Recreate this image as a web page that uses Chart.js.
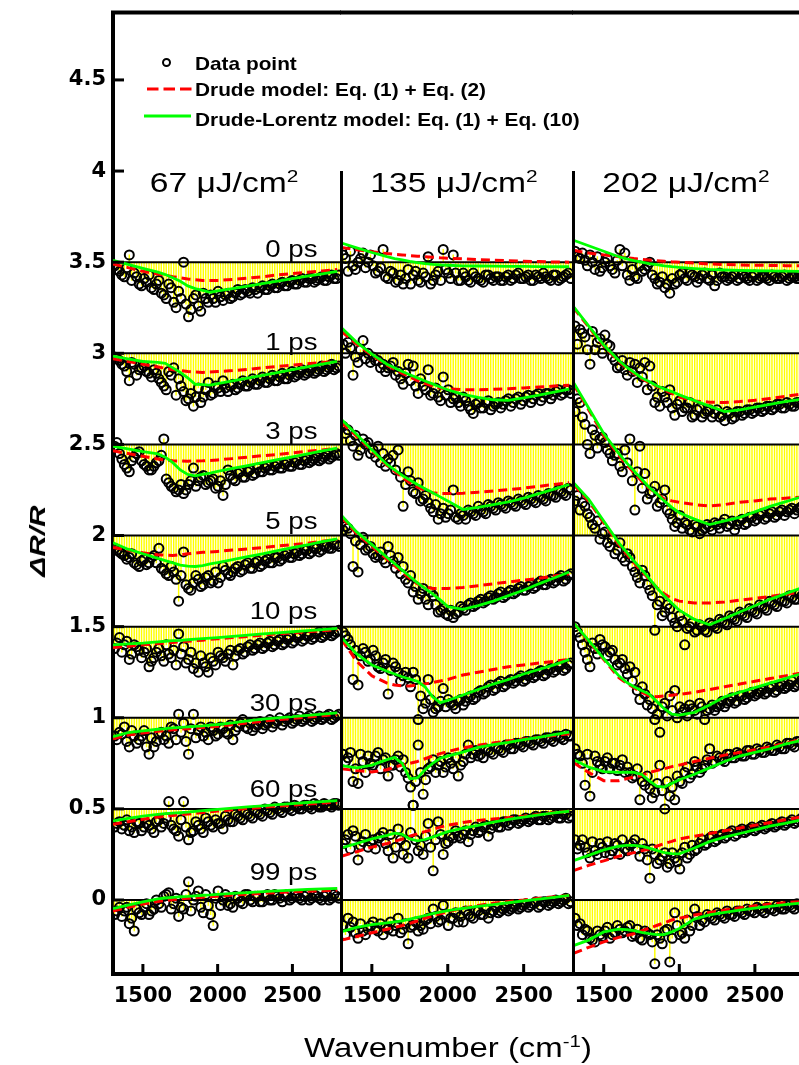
<!DOCTYPE html>
<html>
<head>
<meta charset="utf-8">
<script src="https://cdn.jsdelivr.net/npm/chart.js@4.4.0/dist/chart.umd.min.js"></script>
<style>
  html, body { margin: 0; padding: 0; overflow: hidden; background: #fff; }
  body { position: relative; width: 799px; height: 1065px; font-family: "Liberation Sans", Arial, sans-serif; }
  canvas { position: absolute; top: 0; }
  .t { position: absolute; white-space: nowrap; color: #000; line-height: 1; }
  .t sup { font-size: 0.62em; vertical-align: 0.6em; line-height: 0; }
</style>
</head>
<body>
<canvas id="p0" width="341" height="1065" style="left:0px"></canvas>
<canvas id="p1" width="233" height="1065" style="left:340px"></canvas>
<canvas id="p2" width="232" height="1065" style="left:572px"></canvas>

<!-- legend -->
<div class="t" style="left:161.5px;top:58px;width:5px;height:5px;border:2px solid #000;border-radius:50%"></div>
<svg class="t" style="left:140px;top:80px" width="60" height="45">
  <line x1="7" y1="9" x2="52" y2="9" stroke="#ff0000" stroke-width="3" stroke-dasharray="11.5 5"/>
  <line x1="4" y1="36" x2="51" y2="36" stroke="#00ff00" stroke-width="3"/>
</svg>

<script>
const fluences = [67, 135, 202];
const delays = ['0 ps', '1 ps', '3 ps', '5 ps', '10 ps', '30 ps', '60 ps', '99 ps'];
const baselines = [3.5, 3, 2.5, 2, 1.5, 1, 0.5, 0];
const yTicks = [0, 0.5, 1, 1.5, 2, 2.5, 3, 3.5, 4, 4.5];
const xTicks = [1500, 2000, 2500];

// measured wavenumbers (cm-1), two interleaved sets of spectral points
const wavenumber = [1310,1343,1376,1409,1442,1475,1508,1541,1574,1607,1640,1673,1706,1739,1772,1805,
  1838,1871,1904,1937,1970,2003,2036,2069,2102,2135,2168,2201,2234,2267,2300,2333,2366,2399,2432,2465,
  2498,2531,2564,2597,2630,2663,2696,2729,2762,2795];
const wavenumberB = [1326,1359,1392,1425,1458,1491,1524,1557,1590,1623,1656,1689,1722,1755,1788,1821,
  1854,1887,1920,1953,1986,2019,2052,2085,2118,2151,2184,2217,2250,2283,2316,2349,2382,2415,2448,2481,
  2514,2547,2580,2613,2646,2679,2712,2745,2778,2811];
// wavenumbers of the fitted curves
const modelWavenumber = [1300,1400,1500,1600,1650,1700,1750,1800,1850,1900,1950,2000,2100,2200,2300,2400,2500,2600,2700,2800];

// dR/R relative to each trace's offset, one row per delay
const points67 = [
  [-0.02,-0.05,-0.08,0.04,-0.06,-0.12,-0.09,-0.07,-0.15,-0.10,-0.18,-0.12,-0.22,-0.16,0.0,-0.30,-0.2,-0.24,-0.17,-0.22,-0.2,-0.16,-0.21,-0.17,-0.19,-0.15,-0.17,-0.16,-0.14,-0.17,-0.13,-0.15,-0.12,-0.14,-0.11,-0.13,-0.1,-0.12,-0.09,-0.11,-0.09,-0.1,-0.08,-0.1,-0.07,-0.09],
  [-0.02,-0.04,-0.07,-0.15,-0.06,-0.09,-0.07,-0.11,-0.09,-0.14,-0.18,-0.1,-0.08,-0.14,-0.21,-0.25,-0.29,-0.19,-0.24,-0.16,-0.22,-0.19,-0.15,-0.21,-0.17,-0.19,-0.15,-0.18,-0.14,-0.17,-0.13,-0.16,-0.12,-0.15,-0.11,-0.14,-0.1,-0.12,-0.09,-0.11,-0.08,-0.1,-0.07,-0.09,-0.06,-0.08],
  [-0.01,-0.05,-0.11,-0.15,-0.07,-0.04,-0.11,-0.14,-0.12,-0.09,0.03,-0.21,-0.24,-0.25,-0.27,-0.22,-0.13,-0.2,-0.17,-0.21,-0.19,-0.23,-0.28,-0.14,-0.19,-0.16,-0.18,-0.15,-0.17,-0.13,-0.15,-0.12,-0.14,-0.11,-0.13,-0.1,-0.12,-0.09,-0.11,-0.08,-0.09,-0.07,-0.08,-0.06,-0.07,-0.05],
  [-0.07,-0.09,-0.11,-0.12,-0.15,-0.17,-0.13,-0.15,-0.11,-0.07,-0.19,-0.22,-0.2,-0.36,-0.09,-0.29,-0.26,-0.24,-0.27,-0.22,-0.25,-0.26,-0.17,-0.21,-0.2,-0.17,-0.19,-0.15,-0.18,-0.14,-0.16,-0.13,-0.15,-0.12,-0.13,-0.1,-0.12,-0.09,-0.1,-0.08,-0.09,-0.07,-0.08,-0.06,-0.07,-0.05],
  [-0.12,-0.06,-0.1,-0.18,-0.1,-0.13,-0.14,-0.22,-0.17,-0.12,-0.19,-0.15,-0.13,-0.04,-0.11,-0.18,-0.23,-0.25,-0.2,-0.25,-0.19,-0.14,-0.17,-0.15,-0.21,-0.13,-0.15,-0.11,-0.13,-0.1,-0.12,-0.09,-0.11,-0.08,-0.1,-0.07,-0.09,-0.06,-0.08,-0.05,-0.07,-0.04,-0.06,-0.04,-0.05,-0.03],
  [-0.1,-0.08,-0.05,-0.16,-0.1,-0.12,-0.07,-0.2,-0.16,-0.09,-0.12,-0.14,-0.06,0.02,-0.03,-0.2,0.02,-0.07,-0.1,-0.12,-0.07,-0.09,-0.06,-0.09,-0.12,-0.05,-0.01,-0.06,-0.07,-0.04,-0.06,-0.03,-0.05,-0.02,-0.04,-0.01,-0.03,-0.01,-0.02,0.0,-0.02,0.0,-0.01,0.01,-0.01,0.01],
  [-0.1,-0.07,-0.09,-0.12,-0.13,-0.08,-0.1,-0.09,-0.13,-0.06,-0.08,0.04,-0.11,-0.15,0.04,-0.17,-0.12,-0.09,-0.13,-0.07,-0.1,-0.08,-0.11,-0.06,-0.07,-0.04,-0.06,-0.03,-0.05,-0.02,-0.04,-0.01,-0.03,0.0,-0.02,0.01,-0.01,0.01,0.0,0.02,0.0,0.02,0.01,0.02,0.01,0.03],
  [-0.08,-0.04,-0.06,-0.13,-0.17,-0.07,-0.04,-0.08,-0.05,-0.02,0.02,0.04,-0.02,-0.09,-0.05,0.1,0.0,0.05,-0.07,-0.03,-0.14,0.05,0.0,-0.03,-0.04,0.01,-0.02,0.03,-0.01,0.02,-0.01,0.03,0.0,0.02,-0.01,0.03,0.01,0.02,0.0,0.03,0.01,0.02,0.0,0.03,0.01,0.02]
];
const points67b = [
  [-0.04,-0.07,-0.03,-0.1,-0.08,-0.13,-0.11,-0.14,-0.12,-0.17,-0.2,-0.14,-0.25,-0.2,-0.23,-0.26,-0.18,-0.27,-0.2,-0.18,-0.22,-0.19,-0.18,-0.2,-0.17,-0.18,-0.15,-0.17,-0.15,-0.14,-0.15,-0.13,-0.14,-0.12,-0.13,-0.11,-0.12,-0.1,-0.11,-0.09,-0.11,-0.09,-0.1,-0.08,-0.09,-0.07],
  [-0.03,-0.06,-0.1,-0.05,-0.12,-0.08,-0.1,-0.13,-0.11,-0.16,-0.2,-0.12,-0.23,-0.18,-0.26,-0.22,-0.24,-0.27,-0.2,-0.23,-0.18,-0.21,-0.19,-0.18,-0.2,-0.17,-0.18,-0.16,-0.17,-0.15,-0.16,-0.14,-0.15,-0.13,-0.14,-0.12,-0.13,-0.11,-0.12,-0.1,-0.11,-0.09,-0.1,-0.08,-0.09,-0.07],
  [0.01,-0.08,-0.13,-0.09,-0.05,-0.09,-0.12,-0.14,-0.1,-0.06,-0.19,-0.23,-0.26,-0.22,-0.25,-0.2,-0.23,-0.18,-0.22,-0.2,-0.24,-0.2,-0.22,-0.17,-0.2,-0.15,-0.18,-0.14,-0.16,-0.15,-0.13,-0.14,-0.12,-0.13,-0.11,-0.12,-0.1,-0.11,-0.09,-0.1,-0.08,-0.09,-0.07,-0.08,-0.06,-0.06],
  [-0.08,-0.1,-0.13,-0.1,-0.16,-0.14,-0.16,-0.12,-0.15,-0.18,-0.21,-0.17,-0.24,-0.22,-0.27,-0.3,-0.22,-0.28,-0.23,-0.26,-0.2,-0.23,-0.19,-0.22,-0.18,-0.2,-0.16,-0.18,-0.15,-0.17,-0.14,-0.15,-0.12,-0.14,-0.11,-0.12,-0.1,-0.11,-0.08,-0.1,-0.07,-0.09,-0.06,-0.07,-0.05,-0.06],
  [-0.09,-0.14,-0.08,-0.15,-0.11,-0.17,-0.12,-0.19,-0.14,-0.16,-0.1,-0.17,-0.21,-0.15,-0.2,-0.14,-0.2,-0.16,-0.22,-0.17,-0.21,-0.16,-0.19,-0.13,-0.16,-0.12,-0.14,-0.1,-0.12,-0.09,-0.11,-0.08,-0.1,-0.07,-0.09,-0.06,-0.08,-0.05,-0.07,-0.05,-0.06,-0.03,-0.05,-0.03,-0.04,-0.02],
  [-0.12,-0.09,-0.13,-0.07,-0.14,-0.1,-0.16,-0.11,-0.13,-0.08,-0.1,-0.05,-0.12,-0.08,-0.13,-0.06,-0.11,-0.05,-0.08,-0.05,-0.1,-0.05,-0.08,-0.04,-0.07,-0.03,-0.05,-0.03,-0.05,-0.02,-0.04,-0.01,-0.03,0.0,-0.02,0.0,-0.02,0.01,-0.01,0.01,-0.01,0.01,0.0,0.02,0.0,0.02],
  [-0.08,-0.11,-0.06,-0.1,-0.07,-0.12,-0.08,-0.11,-0.07,-0.1,-0.05,-0.09,-0.12,-0.06,-0.1,-0.13,-0.07,-0.11,-0.05,-0.09,-0.06,-0.08,-0.04,-0.07,-0.03,-0.05,-0.02,-0.04,-0.01,-0.03,0.0,-0.02,0.01,-0.01,0.01,0.0,0.02,0.0,0.02,0.01,0.03,0.01,0.03,0.02,0.03,0.02],
  [-0.06,-0.09,-0.04,-0.1,-0.05,-0.08,-0.02,-0.06,0.0,-0.04,0.03,-0.05,0.01,-0.04,0.03,-0.06,0.02,-0.04,0.03,-0.08,0.01,-0.03,0.03,-0.02,0.02,-0.01,0.03,0.0,0.02,-0.01,0.02,0.0,0.03,0.01,0.02,0.0,0.03,0.01,0.02,0.0,0.03,0.01,0.02,0.0,0.03,0.01]
];
const drude67 = [
  [-0.01,-0.03,-0.05,-0.065,-0.072,-0.08,-0.086,-0.092,-0.096,-0.1,-0.1,-0.1,-0.095,-0.088,-0.08,-0.07,-0.062,-0.055,-0.048,-0.04],
  [-0.03,-0.045,-0.06,-0.075,-0.082,-0.09,-0.095,-0.1,-0.103,-0.105,-0.103,-0.1,-0.095,-0.088,-0.08,-0.072,-0.065,-0.058,-0.05,-0.045],
  [-0.035,-0.05,-0.065,-0.08,-0.085,-0.09,-0.091,-0.092,-0.091,-0.09,-0.088,-0.085,-0.078,-0.07,-0.062,-0.055,-0.047,-0.038,-0.03,-0.02],
  [-0.065,-0.08,-0.095,-0.105,-0.108,-0.11,-0.105,-0.1,-0.096,-0.092,-0.09,-0.087,-0.08,-0.074,-0.066,-0.058,-0.05,-0.042,-0.032,-0.022],
  [-0.115,-0.108,-0.1,-0.093,-0.09,-0.087,-0.083,-0.08,-0.077,-0.074,-0.07,-0.067,-0.06,-0.054,-0.047,-0.04,-0.034,-0.028,-0.022,-0.016],
  [-0.115,-0.095,-0.083,-0.074,-0.07,-0.066,-0.063,-0.06,-0.057,-0.054,-0.05,-0.047,-0.038,-0.028,-0.019,-0.01,-0.003,0.004,0.011,0.018],
  [-0.085,-0.07,-0.057,-0.045,-0.04,-0.036,-0.032,-0.028,-0.024,-0.02,-0.016,-0.012,-0.005,0.002,0.009,0.015,0.021,0.027,0.032,0.037],
  [-0.06,-0.04,-0.022,-0.008,-0.003,0.002,0.006,0.009,0.012,0.015,0.018,0.021,0.027,0.032,0.037,0.041,0.045,0.048,0.051,0.054]
];
const lorentz67 = [
  [0.01,-0.012,-0.034,-0.055,-0.068,-0.085,-0.105,-0.13,-0.145,-0.155,-0.165,-0.158,-0.145,-0.131,-0.118,-0.104,-0.09,-0.077,-0.064,-0.05],
  [-0.015,-0.03,-0.045,-0.05,-0.055,-0.08,-0.105,-0.135,-0.17,-0.172,-0.175,-0.166,-0.151,-0.136,-0.121,-0.106,-0.09,-0.075,-0.06,-0.045],
  [-0.01,-0.025,-0.04,-0.052,-0.07,-0.1,-0.14,-0.165,-0.173,-0.165,-0.157,-0.148,-0.132,-0.116,-0.1,-0.084,-0.068,-0.052,-0.036,-0.02],
  [-0.04,-0.075,-0.1,-0.125,-0.138,-0.15,-0.162,-0.168,-0.17,-0.165,-0.156,-0.148,-0.132,-0.116,-0.1,-0.083,-0.067,-0.051,-0.034,-0.018],
  [-0.1,-0.095,-0.09,-0.083,-0.08,-0.077,-0.075,-0.072,-0.069,-0.066,-0.063,-0.06,-0.053,-0.047,-0.04,-0.034,-0.028,-0.022,-0.016,-0.01],
  [-0.104,-0.082,-0.072,-0.063,-0.06,-0.056,-0.053,-0.05,-0.047,-0.044,-0.04,-0.037,-0.028,-0.017,-0.008,0,0.006,0.013,0.02,0.027],
  [-0.066,-0.052,-0.04,-0.03,-0.026,-0.023,-0.02,-0.018,-0.014,-0.01,-0.006,-0.003,0.004,0.011,0.017,0.023,0.029,0.035,0.04,0.045],
  [-0.048,-0.028,-0.01,0.006,0.011,0.015,0.018,0.02,0.023,0.026,0.028,0.031,0.036,0.041,0.046,0.05,0.054,0.058,0.061,0.064]
];

const points135 = [
  [0.04,-0.05,-0.02,0.0,0.05,0.0,-0.02,-0.05,0.07,-0.09,-0.06,-0.1,-0.12,-0.04,-0.07,-0.1,-0.06,0.03,-0.1,-0.05,0.07,-0.06,0.04,-0.1,-0.06,-0.1,-0.06,-0.09,-0.11,-0.07,-0.1,-0.08,-0.1,-0.07,-0.09,-0.06,-0.09,-0.07,-0.1,-0.08,-0.06,-0.09,-0.07,-0.1,-0.08,-0.06],
  [0.05,0.06,-0.12,-0.05,0.07,0.0,-0.02,-0.04,-0.06,-0.08,-0.05,-0.1,-0.17,-0.06,-0.07,-0.22,-0.18,-0.09,-0.22,-0.24,-0.13,-0.2,-0.25,-0.27,-0.24,-0.29,-0.33,-0.27,-0.3,-0.26,-0.29,-0.27,-0.28,-0.25,-0.27,-0.24,-0.26,-0.23,-0.25,-0.22,-0.24,-0.22,-0.23,-0.2,-0.22,-0.2],
  [0.1,0.08,-0.01,-0.06,0.03,0.01,-0.03,-0.01,-0.05,-0.08,-0.06,-0.03,-0.34,-0.15,-0.26,-0.21,-0.3,-0.32,-0.37,-0.41,-0.35,-0.38,-0.25,-0.41,-0.39,-0.36,-0.38,-0.34,-0.37,-0.33,-0.35,-0.32,-0.34,-0.31,-0.33,-0.3,-0.32,-0.29,-0.31,-0.28,-0.3,-0.27,-0.28,-0.25,-0.27,-0.24],
  [0.03,0.04,-0.17,-0.2,-0.01,-0.07,-0.1,-0.11,-0.13,-0.06,-0.14,-0.12,-0.17,-0.26,-0.31,-0.35,-0.29,-0.38,-0.33,-0.42,-0.4,-0.44,-0.45,-0.42,-0.4,-0.38,-0.39,-0.36,-0.37,-0.34,-0.35,-0.32,-0.34,-0.31,-0.32,-0.29,-0.3,-0.28,-0.29,-0.26,-0.27,-0.25,-0.26,-0.23,-0.25,-0.22],
  [-0.03,-0.07,-0.29,-0.32,-0.12,-0.19,-0.13,-0.22,-0.2,-0.37,-0.2,-0.25,-0.27,-0.28,-0.25,-0.51,-0.45,-0.29,-0.47,-0.44,-0.34,-0.4,-0.43,-0.41,-0.43,-0.39,-0.4,-0.36,-0.37,-0.33,-0.35,-0.31,-0.33,-0.3,-0.31,-0.28,-0.3,-0.27,-0.28,-0.25,-0.27,-0.24,-0.25,-0.22,-0.24,-0.21],
  [-0.2,-0.22,-0.35,-0.36,-0.24,-0.21,-0.26,-0.19,-0.23,-0.32,-0.26,-0.21,-0.23,-0.33,-0.48,-0.15,-0.42,-0.28,-0.23,-0.26,-0.3,-0.22,-0.28,-0.32,-0.24,-0.15,-0.2,-0.21,-0.22,-0.18,-0.2,-0.17,-0.19,-0.15,-0.17,-0.14,-0.16,-0.13,-0.15,-0.12,-0.14,-0.11,-0.13,-0.1,-0.12,-0.1],
  [-0.19,-0.14,-0.12,-0.28,-0.18,-0.21,-0.17,-0.16,-0.13,-0.23,-0.27,-0.11,-0.25,-0.27,0.02,-0.23,-0.25,-0.08,-0.34,-0.07,-0.25,-0.18,-0.16,-0.15,-0.14,-0.18,-0.12,-0.13,-0.1,-0.15,-0.09,-0.1,-0.07,-0.09,-0.06,-0.08,-0.06,-0.07,-0.05,-0.06,-0.04,-0.06,-0.04,-0.05,-0.03,-0.05],
  [-0.14,-0.1,-0.12,-0.21,-0.17,-0.16,-0.12,-0.17,-0.19,-0.16,-0.17,-0.1,-0.16,-0.24,-0.14,-0.17,-0.16,-0.1,-0.05,-0.12,-0.03,-0.14,-0.1,-0.12,-0.12,-0.08,-0.1,-0.06,-0.08,-0.1,-0.06,-0.07,-0.05,-0.06,-0.04,-0.05,-0.03,-0.04,-0.02,-0.04,-0.01,-0.03,-0.01,-0.02,0.0,-0.02]
];
const points135b = [
  [0.02,0.06,-0.04,0.02,-0.03,0.04,-0.06,-0.03,-0.08,-0.05,-0.11,-0.07,-0.09,-0.12,-0.05,-0.11,-0.08,-0.12,-0.07,-0.1,-0.04,-0.09,-0.06,-0.1,-0.08,-0.11,-0.08,-0.1,-0.07,-0.09,-0.08,-0.1,-0.08,-0.1,-0.07,-0.09,-0.08,-0.1,-0.07,-0.09,-0.08,-0.1,-0.07,-0.09,-0.07,-0.09],
  [0.0,0.03,-0.02,0.02,-0.03,-0.05,-0.04,-0.08,-0.1,-0.07,-0.12,-0.14,-0.11,-0.15,-0.18,-0.14,-0.2,-0.23,-0.19,-0.26,-0.23,-0.27,-0.24,-0.29,-0.26,-0.31,-0.28,-0.3,-0.27,-0.31,-0.28,-0.3,-0.26,-0.29,-0.25,-0.28,-0.24,-0.27,-0.23,-0.26,-0.22,-0.25,-0.21,-0.23,-0.2,-0.22],
  [0.06,0.02,0.05,-0.03,0.0,-0.05,-0.07,-0.1,-0.12,-0.1,-0.14,-0.18,-0.22,-0.2,-0.27,-0.31,-0.28,-0.35,-0.33,-0.38,-0.4,-0.36,-0.4,-0.38,-0.41,-0.37,-0.39,-0.36,-0.38,-0.34,-0.36,-0.33,-0.35,-0.32,-0.34,-0.31,-0.33,-0.3,-0.32,-0.29,-0.31,-0.28,-0.29,-0.26,-0.28,-0.25],
  [0.05,0.01,-0.03,-0.05,-0.08,-0.06,-0.12,-0.09,-0.15,-0.11,-0.18,-0.21,-0.24,-0.22,-0.28,-0.32,-0.35,-0.31,-0.38,-0.41,-0.43,-0.41,-0.43,-0.39,-0.41,-0.37,-0.38,-0.35,-0.36,-0.33,-0.34,-0.31,-0.33,-0.3,-0.31,-0.28,-0.3,-0.27,-0.28,-0.25,-0.27,-0.24,-0.25,-0.22,-0.24,-0.21],
  [-0.05,-0.1,-0.13,-0.16,-0.14,-0.18,-0.16,-0.23,-0.18,-0.24,-0.22,-0.3,-0.25,-0.33,-0.29,-0.38,-0.42,-0.4,-0.45,-0.41,-0.44,-0.42,-0.45,-0.4,-0.41,-0.38,-0.39,-0.35,-0.36,-0.32,-0.34,-0.3,-0.32,-0.29,-0.3,-0.27,-0.29,-0.26,-0.27,-0.24,-0.26,-0.23,-0.24,-0.21,-0.23,-0.2],
  [-0.24,-0.19,-0.28,-0.2,-0.3,-0.25,-0.21,-0.28,-0.22,-0.26,-0.23,-0.27,-0.3,-0.38,-0.35,-0.3,-0.34,-0.27,-0.3,-0.24,-0.27,-0.25,-0.22,-0.26,-0.2,-0.22,-0.18,-0.2,-0.17,-0.19,-0.16,-0.18,-0.15,-0.17,-0.14,-0.15,-0.13,-0.14,-0.12,-0.13,-0.11,-0.12,-0.1,-0.11,-0.09,-0.1],
  [-0.17,-0.22,-0.15,-0.2,-0.14,-0.18,-0.22,-0.15,-0.19,-0.14,-0.21,-0.17,-0.2,-0.13,-0.17,-0.2,-0.15,-0.21,-0.17,-0.14,-0.19,-0.15,-0.12,-0.16,-0.12,-0.14,-0.1,-0.12,-0.09,-0.11,-0.08,-0.1,-0.07,-0.08,-0.06,-0.07,-0.05,-0.06,-0.04,-0.06,-0.04,-0.05,-0.03,-0.05,-0.03,-0.04],
  [-0.19,-0.15,-0.18,-0.13,-0.19,-0.14,-0.16,-0.13,-0.15,-0.12,-0.14,-0.18,-0.13,-0.15,-0.12,-0.14,-0.11,-0.13,-0.09,-0.11,-0.08,-0.1,-0.07,-0.09,-0.06,-0.09,-0.06,-0.08,-0.05,-0.07,-0.04,-0.06,-0.04,-0.05,-0.03,-0.04,-0.02,-0.03,-0.01,-0.03,-0.01,-0.02,0.0,-0.01,0.01,-0.01]
];
const drude135 = [
  [0.08,0.068,0.057,0.047,0.043,0.04,0.036,0.033,0.03,0.027,0.024,0.022,0.018,0.014,0.011,0.008,0.005,0.003,0.001,0],
  [0.12,0.05,-0.01,-0.065,-0.088,-0.11,-0.13,-0.15,-0.165,-0.18,-0.19,-0.195,-0.2,-0.2,-0.198,-0.195,-0.19,-0.185,-0.18,-0.175],
  [0.12,0.045,-0.035,-0.115,-0.148,-0.18,-0.21,-0.235,-0.252,-0.265,-0.27,-0.27,-0.268,-0.262,-0.255,-0.248,-0.24,-0.23,-0.22,-0.21],
  [0.1,0.01,-0.06,-0.13,-0.165,-0.2,-0.235,-0.265,-0.282,-0.29,-0.29,-0.29,-0.285,-0.275,-0.265,-0.255,-0.245,-0.235,-0.222,-0.21],
  [-0.07,-0.19,-0.27,-0.31,-0.32,-0.325,-0.325,-0.32,-0.314,-0.307,-0.298,-0.29,-0.265,-0.25,-0.235,-0.22,-0.21,-0.2,-0.19,-0.18],
  [-0.28,-0.29,-0.298,-0.285,-0.27,-0.26,-0.25,-0.24,-0.225,-0.21,-0.197,-0.185,-0.165,-0.15,-0.138,-0.127,-0.117,-0.107,-0.097,-0.088],
  [-0.26,-0.235,-0.21,-0.19,-0.178,-0.165,-0.15,-0.137,-0.125,-0.113,-0.1,-0.09,-0.075,-0.063,-0.055,-0.048,-0.04,-0.03,-0.02,-0.013],
  [-0.22,-0.2,-0.18,-0.16,-0.15,-0.14,-0.128,-0.115,-0.1,-0.088,-0.075,-0.065,-0.045,-0.03,-0.018,-0.008,0,0.01,0.018,0.025]
];
const lorentz135 = [
  [0.105,0.078,0.053,0.03,0.02,0.012,0.004,-0.003,-0.008,-0.012,-0.015,-0.017,-0.02,-0.021,-0.022,-0.023,-0.023,-0.024,-0.025,-0.025],
  [0.14,0.06,-0.005,-0.06,-0.08,-0.1,-0.118,-0.135,-0.152,-0.168,-0.185,-0.2,-0.225,-0.242,-0.255,-0.258,-0.245,-0.23,-0.213,-0.197],
  [0.137,0.055,-0.03,-0.11,-0.14,-0.17,-0.195,-0.22,-0.243,-0.265,-0.288,-0.31,-0.357,-0.345,-0.33,-0.316,-0.295,-0.27,-0.245,-0.22],
  [0.11,0.02,-0.05,-0.12,-0.155,-0.19,-0.225,-0.26,-0.29,-0.32,-0.353,-0.39,-0.405,-0.385,-0.36,-0.33,-0.3,-0.265,-0.233,-0.2],
  [-0.06,-0.15,-0.21,-0.245,-0.26,-0.275,-0.288,-0.3,-0.33,-0.385,-0.417,-0.405,-0.375,-0.345,-0.315,-0.29,-0.26,-0.235,-0.21,-0.18],
  [-0.262,-0.275,-0.26,-0.23,-0.217,-0.25,-0.335,-0.33,-0.285,-0.25,-0.222,-0.21,-0.188,-0.163,-0.148,-0.135,-0.12,-0.107,-0.093,-0.079],
  [-0.214,-0.19,-0.165,-0.145,-0.133,-0.14,-0.165,-0.175,-0.168,-0.155,-0.14,-0.125,-0.105,-0.09,-0.073,-0.058,-0.045,-0.033,-0.022,-0.013],
  [-0.174,-0.15,-0.135,-0.125,-0.12,-0.115,-0.105,-0.095,-0.085,-0.075,-0.066,-0.058,-0.046,-0.035,-0.025,-0.015,-0.005,0.005,0.015,0.025]
];

const points202 = [
  [0.06,0.02,0.01,0.04,-0.04,-0.05,0.0,-0.02,-0.06,0.07,0.05,-0.1,-0.08,-0.02,-0.04,0.0,-0.09,-0.11,-0.14,-0.17,-0.12,-0.07,-0.09,-0.06,-0.08,-0.09,-0.06,-0.1,-0.13,-0.06,-0.08,-0.09,-0.07,-0.09,-0.08,-0.1,-0.07,-0.09,-0.08,-0.1,-0.08,-0.09,-0.07,-0.09,-0.08,-0.09],
  [0.15,0.13,0.09,-0.06,0.02,0.08,0.1,0.04,-0.04,-0.07,-0.09,-0.05,-0.06,-0.08,-0.05,-0.07,-0.27,-0.29,-0.24,-0.2,-0.34,-0.26,-0.3,-0.27,-0.34,-0.3,-0.33,-0.31,-0.33,-0.35,-0.37,-0.33,-0.35,-0.32,-0.33,-0.31,-0.32,-0.3,-0.31,-0.29,-0.3,-0.28,-0.3,-0.28,-0.29,-0.27],
  [0.18,0.23,0.11,-0.05,0.05,0.03,0.01,-0.05,-0.06,-0.12,-0.03,0.03,-0.36,-0.01,-0.16,-0.27,-0.23,-0.32,-0.25,-0.38,-0.45,-0.39,-0.43,-0.47,-0.44,-0.49,-0.46,-0.45,-0.43,-0.46,-0.41,-0.44,-0.47,-0.42,-0.44,-0.4,-0.42,-0.39,-0.41,-0.38,-0.4,-0.37,-0.39,-0.36,-0.38,-0.35],
  [0.19,0.14,0.16,0.1,0.04,-0.02,0.02,-0.06,-0.1,-0.04,-0.14,-0.12,-0.2,-0.26,-0.22,-0.3,-0.52,-0.36,-0.42,-0.4,-0.48,-0.44,-0.6,-0.5,-0.53,-0.49,-0.52,-0.48,-0.5,-0.46,-0.48,-0.44,-0.46,-0.42,-0.44,-0.4,-0.42,-0.38,-0.4,-0.36,-0.38,-0.35,-0.36,-0.33,-0.35,-0.32],
  [0.0,-0.06,-0.14,-0.22,-0.12,-0.07,-0.11,-0.14,-0.18,-0.2,-0.23,-0.22,-0.25,-0.4,-0.37,-0.4,-0.51,-0.58,-0.42,-0.38,-0.35,-0.44,-0.45,-0.43,-0.46,-0.42,-0.51,-0.45,-0.46,-0.43,-0.44,-0.41,-0.42,-0.38,-0.4,-0.37,-0.38,-0.36,-0.37,-0.34,-0.36,-0.33,-0.34,-0.32,-0.33,-0.31],
  [-0.17,-0.21,-0.37,-0.43,-0.21,-0.26,-0.24,-0.28,-0.25,-0.26,-0.3,-0.3,-0.32,-0.45,-0.37,-0.39,-0.41,-0.26,-0.5,-0.43,-0.45,-0.35,-0.3,-0.33,-0.24,-0.3,-0.26,-0.17,-0.24,-0.22,-0.24,-0.2,-0.22,-0.2,-0.21,-0.18,-0.2,-0.18,-0.19,-0.17,-0.18,-0.16,-0.17,-0.14,-0.16,-0.13],
  [-0.17,-0.2,-0.21,-0.27,-0.23,-0.19,-0.24,-0.25,-0.19,-0.25,-0.22,-0.2,-0.17,-0.26,-0.22,-0.38,-0.25,-0.28,-0.24,-0.3,-0.27,-0.33,-0.21,-0.25,-0.23,-0.19,-0.2,-0.16,-0.18,-0.15,-0.16,-0.13,-0.15,-0.12,-0.13,-0.11,-0.12,-0.1,-0.11,-0.09,-0.1,-0.08,-0.09,-0.07,-0.08,-0.06],
  [-0.1,-0.13,-0.16,-0.21,-0.23,-0.19,-0.17,-0.21,-0.18,-0.16,-0.17,-0.14,-0.19,-0.21,-0.17,-0.19,-0.35,-0.21,-0.17,-0.34,-0.07,-0.19,-0.21,-0.17,-0.05,-0.14,-0.12,-0.09,-0.11,-0.08,-0.1,-0.08,-0.09,-0.06,-0.08,-0.06,-0.07,-0.05,-0.07,-0.05,-0.06,-0.04,-0.05,-0.03,-0.05,-0.03]
];
const points202b = [
  [0.03,0.05,-0.02,0.0,0.03,-0.03,0.02,-0.04,0.01,-0.02,-0.07,-0.04,-0.09,-0.05,-0.02,-0.07,-0.12,-0.08,-0.12,-0.09,-0.11,-0.06,-0.1,-0.07,-0.11,-0.07,-0.09,-0.07,-0.1,-0.08,-0.1,-0.08,-0.1,-0.07,-0.09,-0.08,-0.1,-0.08,-0.09,-0.07,-0.09,-0.08,-0.1,-0.08,-0.09,-0.08],
  [0.05,0.11,0.02,0.12,0.06,0.0,0.05,-0.02,-0.08,-0.04,-0.12,-0.1,-0.16,-0.13,-0.2,-0.18,-0.24,-0.21,-0.27,-0.3,-0.28,-0.32,-0.3,-0.35,-0.31,-0.35,-0.32,-0.35,-0.31,-0.34,-0.32,-0.36,-0.32,-0.34,-0.31,-0.33,-0.3,-0.32,-0.29,-0.31,-0.28,-0.3,-0.27,-0.29,-0.27,-0.28],
  [0.25,0.15,0.0,0.08,-0.02,0.04,-0.03,-0.09,-0.05,-0.15,-0.1,-0.2,-0.15,-0.24,-0.3,-0.26,-0.34,-0.3,-0.36,-0.41,-0.43,-0.46,-0.44,-0.48,-0.45,-0.47,-0.44,-0.47,-0.44,-0.43,-0.45,-0.42,-0.44,-0.41,-0.43,-0.4,-0.41,-0.38,-0.4,-0.37,-0.39,-0.36,-0.37,-0.35,-0.36,-0.34],
  [0.22,0.18,0.12,0.06,0.08,0.01,-0.04,-0.02,-0.08,-0.12,-0.1,-0.17,-0.23,-0.19,-0.27,-0.33,-0.38,-0.44,-0.38,-0.45,-0.5,-0.47,-0.51,-0.48,-0.52,-0.5,-0.53,-0.49,-0.51,-0.47,-0.49,-0.45,-0.47,-0.43,-0.45,-0.41,-0.43,-0.39,-0.41,-0.37,-0.39,-0.36,-0.37,-0.34,-0.35,-0.33],
  [-0.03,-0.1,-0.18,-0.09,-0.15,-0.1,-0.16,-0.13,-0.21,-0.18,-0.26,-0.3,-0.35,-0.33,-0.43,-0.45,-0.48,-0.44,-0.49,-0.46,-0.5,-0.47,-0.49,-0.45,-0.48,-0.44,-0.46,-0.43,-0.44,-0.41,-0.42,-0.39,-0.41,-0.38,-0.39,-0.36,-0.37,-0.35,-0.36,-0.33,-0.35,-0.32,-0.33,-0.3,-0.32,-0.29],
  [-0.2,-0.25,-0.2,-0.3,-0.24,-0.28,-0.22,-0.25,-0.29,-0.23,-0.27,-0.33,-0.28,-0.35,-0.32,-0.44,-0.36,-0.4,-0.35,-0.38,-0.32,-0.36,-0.27,-0.31,-0.27,-0.28,-0.23,-0.25,-0.21,-0.23,-0.2,-0.22,-0.19,-0.21,-0.18,-0.2,-0.17,-0.19,-0.16,-0.18,-0.15,-0.17,-0.14,-0.15,-0.13,-0.14],
  [-0.22,-0.17,-0.24,-0.18,-0.25,-0.21,-0.18,-0.23,-0.2,-0.17,-0.23,-0.19,-0.22,-0.19,-0.28,-0.22,-0.3,-0.26,-0.32,-0.24,-0.29,-0.24,-0.27,-0.2,-0.22,-0.17,-0.19,-0.15,-0.17,-0.14,-0.15,-0.12,-0.14,-0.11,-0.12,-0.1,-0.11,-0.09,-0.1,-0.08,-0.09,-0.07,-0.08,-0.06,-0.07,-0.05],
  [-0.14,-0.19,-0.17,-0.22,-0.17,-0.2,-0.15,-0.19,-0.14,-0.18,-0.15,-0.2,-0.16,-0.22,-0.18,-0.23,-0.19,-0.24,-0.16,-0.21,-0.14,-0.18,-0.11,-0.14,-0.09,-0.11,-0.08,-0.1,-0.07,-0.09,-0.06,-0.08,-0.06,-0.07,-0.05,-0.06,-0.04,-0.06,-0.04,-0.05,-0.03,-0.05,-0.03,-0.04,-0.02,-0.03]
];
const drude202 = [
  [0.065,0.05,0.04,0.03,0.025,0.02,0.016,0.012,0.008,0.005,0.002,0,-0.005,-0.01,-0.013,-0.015,-0.017,-0.018,-0.019,-0.02],
  [0.25,0.145,0.04,-0.045,-0.08,-0.11,-0.14,-0.16,-0.18,-0.2,-0.22,-0.24,-0.262,-0.268,-0.27,-0.265,-0.258,-0.248,-0.237,-0.225],
  [0.33,0.19,0.05,-0.06,-0.11,-0.155,-0.2,-0.24,-0.27,-0.3,-0.31,-0.318,-0.33,-0.338,-0.33,-0.318,-0.31,-0.3,-0.295,-0.29],
  [0.28,0.19,0.07,-0.05,-0.1,-0.15,-0.195,-0.24,-0.285,-0.32,-0.345,-0.36,-0.37,-0.37,-0.365,-0.355,-0.345,-0.335,-0.322,-0.31],
  [0.02,-0.08,-0.18,-0.28,-0.31,-0.335,-0.36,-0.38,-0.385,-0.38,-0.376,-0.372,-0.36,-0.345,-0.33,-0.315,-0.3,-0.285,-0.27,-0.255],
  [-0.245,-0.3,-0.345,-0.345,-0.335,-0.325,-0.317,-0.3,-0.29,-0.28,-0.268,-0.26,-0.24,-0.222,-0.205,-0.19,-0.175,-0.16,-0.14,-0.12],
  [-0.339,-0.31,-0.285,-0.26,-0.25,-0.24,-0.23,-0.22,-0.205,-0.19,-0.178,-0.165,-0.15,-0.135,-0.12,-0.105,-0.09,-0.075,-0.06,-0.045],
  [-0.293,-0.26,-0.23,-0.205,-0.195,-0.185,-0.17,-0.155,-0.14,-0.125,-0.11,-0.1,-0.082,-0.068,-0.055,-0.043,-0.032,-0.022,-0.015,-0.009]
];
const lorentz202 = [
  [0.12,0.09,0.06,0.03,0.018,0.008,0,-0.008,-0.014,-0.02,-0.025,-0.029,-0.035,-0.04,-0.043,-0.045,-0.047,-0.048,-0.049,-0.05],
  [0.256,0.15,0.045,-0.04,-0.075,-0.105,-0.135,-0.155,-0.178,-0.195,-0.21,-0.228,-0.26,-0.29,-0.32,-0.31,-0.295,-0.28,-0.265,-0.253],
  [0.34,0.2,0.06,-0.05,-0.1,-0.145,-0.19,-0.235,-0.27,-0.31,-0.345,-0.375,-0.41,-0.44,-0.42,-0.4,-0.37,-0.34,-0.315,-0.29],
  [0.29,0.2,0.08,-0.04,-0.09,-0.14,-0.185,-0.235,-0.285,-0.33,-0.37,-0.41,-0.46,-0.49,-0.455,-0.42,-0.385,-0.35,-0.32,-0.29],
  [0.02,-0.075,-0.175,-0.27,-0.305,-0.33,-0.35,-0.37,-0.41,-0.45,-0.48,-0.485,-0.47,-0.43,-0.385,-0.36,-0.335,-0.31,-0.285,-0.26],
  [-0.23,-0.27,-0.295,-0.3,-0.298,-0.3,-0.31,-0.345,-0.375,-0.38,-0.36,-0.34,-0.31,-0.275,-0.24,-0.21,-0.19,-0.17,-0.145,-0.125],
  [-0.284,-0.255,-0.225,-0.205,-0.2,-0.2,-0.205,-0.215,-0.228,-0.24,-0.245,-0.247,-0.215,-0.18,-0.155,-0.135,-0.115,-0.095,-0.08,-0.062],
  [-0.25,-0.22,-0.175,-0.16,-0.163,-0.168,-0.178,-0.185,-0.19,-0.19,-0.175,-0.156,-0.105,-0.082,-0.068,-0.055,-0.045,-0.035,-0.025,-0.017]
];

const X_MIN = 1300, X_MAX = 2825, Y_MIN = -0.406, Y_MAX = 4.87;
const tickFont = { family: 'DejaVu Sans', weight: 'bold', size: 21 };

// frame: top line, panel dividers, inward tick marks
const framePlugin = {
  id: 'frame',
  afterDatasetsDraw(chart, args, opts) {
    const { ctx, chartArea: a, scales: { x, y } } = chart;
    ctx.save();
    ctx.strokeStyle = '#000';
    ctx.lineWidth = 4;
    ctx.beginPath();
    ctx.moveTo(opts.first ? a.left - 2 : 0, a.top);
    ctx.lineTo(chart.width, a.top);
    ctx.stroke();
    if (!opts.first) {
      ctx.lineWidth = 3;
      ctx.beginPath();
      ctx.moveTo(a.left, y.getPixelForValue(4));
      ctx.lineTo(a.left, a.bottom);
      ctx.stroke();
    }
    ctx.lineWidth = 3;
    xTicks.forEach(v => {
      const px = x.getPixelForValue(v);
      ctx.beginPath(); ctx.moveTo(px, a.bottom); ctx.lineTo(px, a.bottom - 10); ctx.stroke();
    });
    if (opts.first) {
      yTicks.forEach(v => {
        const py = y.getPixelForValue(v);
        ctx.beginPath(); ctx.moveTo(a.left, py); ctx.lineTo(a.left + 11, py); ctx.stroke();
      });
    }
    ctx.restore();
  }
};

function buildPanel(id, pts, ptsB, drude, lorentz, first) {
  const datasets = [];
  baselines.forEach((b, k) => {
    const spectrum = wavenumber.map((w, i) => ({ w, v: pts[k][i] }))
      .concat(wavenumberB.map((w, i) => ({ w, v: ptsB[k][i] })));
    datasets.push({
      type: 'bar', order: 4, grouped: false, barThickness: 0.8,
      backgroundColor: '#ffff00',
      data: spectrum.map(p => ({ x: p.w, y: [b, b + p.v] }))
    });
    datasets.push({
      type: 'line', order: 3, borderColor: '#000', borderWidth: 2, pointRadius: 0,
      data: [{ x: X_MIN, y: b }, { x: X_MAX, y: b }]
    });
    datasets.push({
      type: 'scatter', order: 2, pointRadius: 4.5, pointBorderWidth: 2,
      pointBorderColor: '#000', pointBackgroundColor: 'rgba(0,0,0,0)',
      data: spectrum.map(p => ({ x: p.w, y: b + p.v }))
    });
    datasets.push({
      type: 'line', order: 1, borderColor: '#ff0000', borderWidth: 3, borderDash: [9, 5],
      pointRadius: 0, data: modelWavenumber.map((w, i) => ({ x: w, y: b + drude[k][i] }))
    });
    datasets.push({
      type: 'line', order: 0, borderColor: '#00ff00', borderWidth: 2.8,
      pointRadius: 0, data: modelWavenumber.map((w, i) => ({ x: w, y: b + lorentz[k][i] }))
    });
  });

  return new Chart(document.getElementById(id), {
    type: 'scatter',
    data: { datasets },
    plugins: [framePlugin],
    options: {
      responsive: false, animation: false, events: [],
      layout: { padding: { top: 12.5, left: first ? 0 : 1.5, right: 0, bottom: 0 }, autoPadding: false },
      plugins: { legend: { display: false }, tooltip: { enabled: false }, frame: { first } },
      scales: {
        x: {
          type: 'linear', min: X_MIN, max: X_MAX, offset: false,
          grid: { display: false, drawTicks: false, offset: false },
          border: { display: true, color: '#000', width: 4 },
          ticks: { padding: 10, color: '#000', font: tickFont, autoSkip: false,
                   maxRotation: 0, minRotation: 0, callback: v => String(v) },
          afterBuildTicks: s => { s.ticks = xTicks.map(v => ({ value: v })); },
          afterFit: s => { s.height = 91; s.paddingLeft = 0; s.paddingRight = 0; }
        },
        y: {
          type: 'linear', min: Y_MIN, max: Y_MAX, display: first,
          grid: { display: false, drawTicks: false },
          border: { display: true, color: '#000', width: 4 },
          ticks: { padding: 7, color: '#000', font: tickFont, autoSkip: false,
                   callback: v => String(v) },
          afterBuildTicks: s => { s.ticks = yTicks.map(v => ({ value: v })); },
          afterFit: s => { s.width = first ? 113 : 0; s.paddingTop = 0; s.paddingBottom = 0; }
        }
      }
    }
  });
}

const charts = [
  buildPanel('p0', points67, points67b, drude67, lorentz67, true),
  buildPanel('p1', points135, points135b, drude135, lorentz135, false),
  buildPanel('p2', points202, points202b, drude202, lorentz202, false)
];

// html text, Arial-like glyphs stretched horizontally like the source figure
function addText(html, x, base, size, o) {
  const d = document.createElement('div');
  d.className = 't';
  d.innerHTML = html;
  d.style.fontSize = size + 'px';
  d.style.fontWeight = o.bold ? 'bold' : 'normal';
  d.style.top = (base - 0.8465 * size) + 'px';
  const sx = o.sx || 1.2;
  if (o.align === 'right') {
    d.style.right = (799 - x) + 'px';
    d.style.transformOrigin = 'right center';
    d.style.transform = `scaleX(${sx})`;
  } else if (o.align === 'center') {
    d.style.left = x + 'px';
    d.style.transform = `translateX(-50%) scaleX(${sx})`;
  } else {
    d.style.left = x + 'px';
    d.style.transformOrigin = 'left center';
    d.style.transform = `scaleX(${sx})`;
  }
  document.body.appendChild(d);
  return d;
}

// legend text
addText('Data point', 195, 70.5, 18.6, { bold: true, sx: 1.12 });
addText('Drude model: Eq. (1) + Eq. (2)', 195, 97, 18.6, { bold: true, sx: 1.12 });
addText('Drude-Lorentz model: Eq. (1) + Eq. (10)', 195, 126.5, 18.6, { bold: true, sx: 1.12 });

// fluence titles centred over each panel
const offsets = [0, 340, 572];
charts.forEach((c, i) => {
  const a = c.chartArea;
  addText(fluences[i] + ' μJ/cm<sup>2</sup>', offsets[i] + (a.left + a.right) / 2 - 3, 193, 28, { align: 'center', sx: 1.2 });
});

// delay labels in the first panel
const labelLift = [5, 3, 5, 6, 7, 6, 11, 20];
const y0 = charts[0].scales.y;
delays.forEach((t, k) => {
  addText(t, 317, y0.getPixelForValue(baselines[k]) - labelLift[k], 23, { align: 'right', sx: 1.2 });
});

addText('Wavenumber (cm<sup>-1</sup>)', 448, 1058, 27, { align: 'center', sx: 1.22 });

const yt = document.createElement('div');
yt.className = 't';
yt.innerHTML = 'ΔR/R';
yt.style.cssText += 'left:38px;top:541px;font-size:22px;font-weight:bold;font-style:italic;transform:translate(-50%,-50%) rotate(-90deg) scaleX(1.35);';
document.body.appendChild(yt);
</script>
</body>
</html>
